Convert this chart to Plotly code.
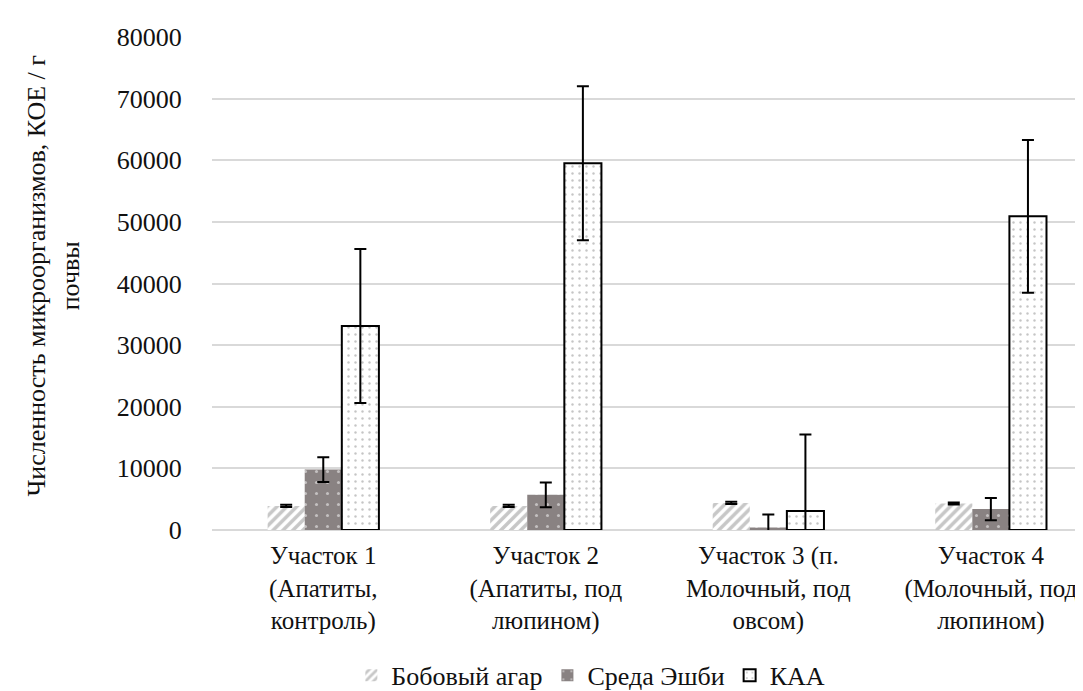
import plotly.graph_objects as go

categories = [
    "Участок 1<br>(Апатиты,<br>контроль)",
    "Участок 2<br>(Апатиты, под<br>люпином)",
    "Участок 3 (п.<br>Молочный, под<br>овсом)",
    "Участок 4<br>(Молочный, под<br>люпином)",
]
series_names = ["Бобовый агар", "Среда Эшби", "КАА"]
bobovy = [3900, 3900, 4400, 4300]
bobovy_err = [180, 180, 180, 180]
eshbi = [9800, 5700, 400, 3400]
eshbi_err = [2000, 2000, 2100, 1800]
kaa = [33100, 59500, 3100, 50900]
kaa_err = [12500, 12500, 12400, 12400]
y_ticks = [0, 10000, 20000, 30000, 40000, 50000, 60000, 70000, 80000]

FONT = "Times New Roman, Liberation Serif, Tinos, DejaVu Serif, serif"
x_idx = list(range(len(categories)))

fig = go.Figure()
fig.add_trace(go.Bar(
    x=x_idx, y=bobovy, name=series_names[0],
    marker=dict(color="white", line=dict(width=0),
                pattern=dict(shape="/", fgcolor="#8f8f8f", bgcolor="white", size=7, solidity=0.5)),
    error_y=dict(type="data", array=bobovy_err, color="black", thickness=2, width=6),
))
fig.add_trace(go.Bar(
    x=x_idx, y=eshbi, name=series_names[1],
    marker=dict(color="#898282", line=dict(width=0),
                pattern=dict(shape=".", fgcolor="white", bgcolor="#898282", size=11, solidity=0.06)),
    error_y=dict(type="data", array=eshbi_err, color="black", thickness=2, width=6),
))
fig.add_trace(go.Bar(
    x=x_idx, y=kaa, name=series_names[2],
    marker=dict(color="white", line=dict(width=2, color="black"),
                pattern=dict(shape=".", fgcolor="#8c8c8c", bgcolor="white", size=7, solidity=0.1)),
    error_y=dict(type="data", array=kaa_err, color="black", thickness=2, width=6),
))

fig.update_layout(
    width=1083, height=691,
    margin=dict(l=204, r=0, t=29, b=164),
    paper_bgcolor="white", plot_bgcolor="white",
    font=dict(family=FONT, size=26, color="#111111"),
    barmode="group", bargap=0.5, bargroupgap=0,
    showlegend=True,
    legend=dict(orientation="h", x=0.431, xanchor="center", y=-0.295, yanchor="middle",
                font=dict(size=26, family=FONT), itemwidth=30, tracegroupgap=0),
)
fig.update_xaxes(
    tickmode="array", tickvals=x_idx, ticktext=categories,
    range=[-0.5, 3.45], showgrid=False, showline=False, ticks="outside",
    ticklen=3, tickcolor="rgba(0,0,0,0)", tickfont=dict(size=25, family=FONT),
)
fig.update_yaxes(
    range=[0, 80000], tickvals=y_ticks, ticktext=[str(v) for v in y_ticks],
    showgrid=True, gridcolor="#d9d9d9", gridwidth=1.5,
    zeroline=True, zerolinecolor="#d9d9d9", zerolinewidth=1.5,
    showline=False, ticks="outside", ticklen=24, tickcolor="rgba(0,0,0,0)",
    tickfont=dict(size=26, family=FONT),
)
fig.add_annotation(
    text="Численность микроорганизмов, КОЕ / г<br>почвы",
    xref="paper", yref="paper", x=-(204 - 46) / 879, y=(527 - 270) / 498,
    xanchor="center", yanchor="middle", textangle=-90, showarrow=False,
    font=dict(size=26, family=FONT),
)

fig.write_html("out.html")
